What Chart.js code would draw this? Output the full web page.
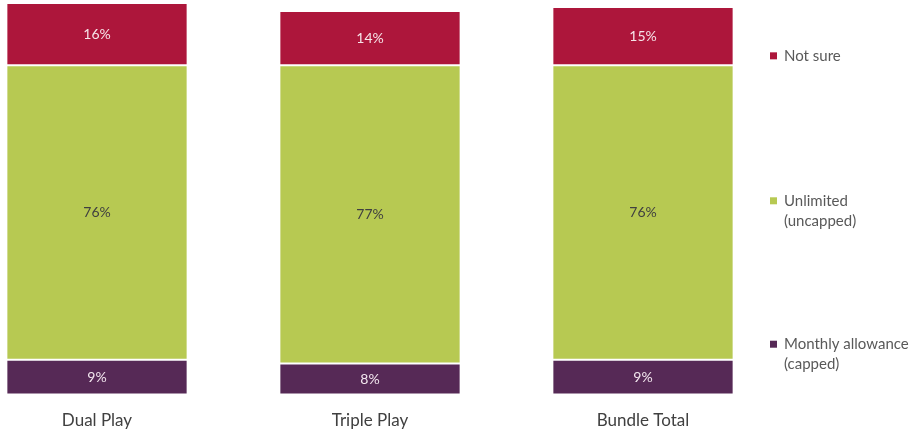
<!DOCTYPE html>
<html>
<head>
<meta charset="utf-8">
<script src="https://cdn.jsdelivr.net/npm/chart.js@4.4.1/dist/chart.umd.min.js"></script>
<style>
  html, body { margin: 0; padding: 0; background: #ffffff; }
  #wrap { position: relative; width: 918px; height: 430px; }
</style>
</head>
<body>
<div id="wrap"><canvas id="c" width="918" height="430"></canvas></div>
<script>
// Bundle types on the x axis
const categories = ['Dual Play', 'Triple Play', 'Bundle Total'];

// Share of respondents per data allowance type (%)
const monthlyAllowance = [9, 8, 9];
const unlimited = [76, 77, 76];
const notSure = [16, 14, 15];

// Legend texts (multi-line entries split into lines)
const legendNotSure = ['Not sure'];
const legendUnlimited = ['Unlimited', '(uncapped)'];
const legendMonthly = ['Monthly allowance', '(capped)'];

const COL_PURPLE = '#562956';
const COL_GREEN = '#B7C952';
const COL_RED = '#AD163B';
const FONT = 'Lato, "Open Sans", sans-serif';

// Percentage labels centred in every segment
const segmentLabels = {
  id: 'segmentLabels',
  afterDatasetsDraw(chart) {
    const ctx = chart.ctx;
    ctx.save();
    ctx.font = '14px ' + FONT;
    ctx.textAlign = 'center';
    ctx.textBaseline = 'middle';
    chart.data.datasets.forEach((ds, i) => {
      const meta = chart.getDatasetMeta(i);
      meta.data.forEach((bar, j) => {
        const p = bar.getProps(['x', 'y', 'base'], true);
        ctx.fillStyle = ds.labelColor;
        ctx.fillText(ds.data[j] + '%', p.x, (p.y + p.base) / 2);
      });
    });
    ctx.restore();
  }
};

// Legend at the right, entries spread over the plot height
const sideLegend = {
  id: 'sideLegend',
  afterDraw(chart) {
    const ctx = chart.ctx;
    const area = chart.chartArea;
    const entries = [
      { color: COL_RED, lines: legendNotSure, frac: 0.126 },
      { color: COL_GREEN, lines: legendUnlimited, frac: 0.5 },
      { color: COL_PURPLE, lines: legendMonthly, frac: 0.87 }
    ];
    ctx.save();
    ctx.font = '15px ' + FONT;
    ctx.textBaseline = 'middle';
    ctx.textAlign = 'left';
    const x = 770;
    entries.forEach(e => {
      const y = area.top + (area.bottom - area.top) * e.frac;
      ctx.fillStyle = e.color;
      ctx.fillRect(x, y - 3.5, 7, 7);
      ctx.fillStyle = '#595959';
      e.lines.forEach((t, k) => ctx.fillText(t, x + 14, y + k * 20));
    });
    ctx.restore();
  }
};

new Chart(document.getElementById('c'), {
  type: 'bar',
  data: {
    labels: categories,
    datasets: [
      { label: 'Monthly allowance (capped)', data: monthlyAllowance, backgroundColor: COL_PURPLE, labelColor: '#F2E6EE' },
      { label: 'Unlimited (uncapped)', data: unlimited, backgroundColor: COL_GREEN, labelColor: '#404040' },
      { label: 'Not sure', data: notSure, backgroundColor: COL_RED, labelColor: '#F6E4E8' }
    ].map(d => Object.assign(d, {
      borderColor: '#ffffff',
      borderWidth: 1,
      borderSkipped: false,
      categoryPercentage: 1,
      barPercentage: 0.664,
      clip: false
    }))
  },
  options: {
    responsive: false,
    animation: false,
    layout: { padding: { left: 97, right: 275, top: 7, bottom: -17 } },
    plugins: { legend: { display: false }, tooltip: { enabled: false } },
    scales: {
      x: {
        stacked: true,
        offset: false,
        grid: { display: false, drawTicks: false },
        border: { display: false },
        ticks: { color: '#404040', font: { family: FONT, size: 17 }, padding: 16 }
      },
      y: {
        stacked: true,
        display: false,
        min: 0,
        max: 100
      }
    }
  },
  plugins: [segmentLabels, sideLegend]
});
</script>
</body>
</html>
